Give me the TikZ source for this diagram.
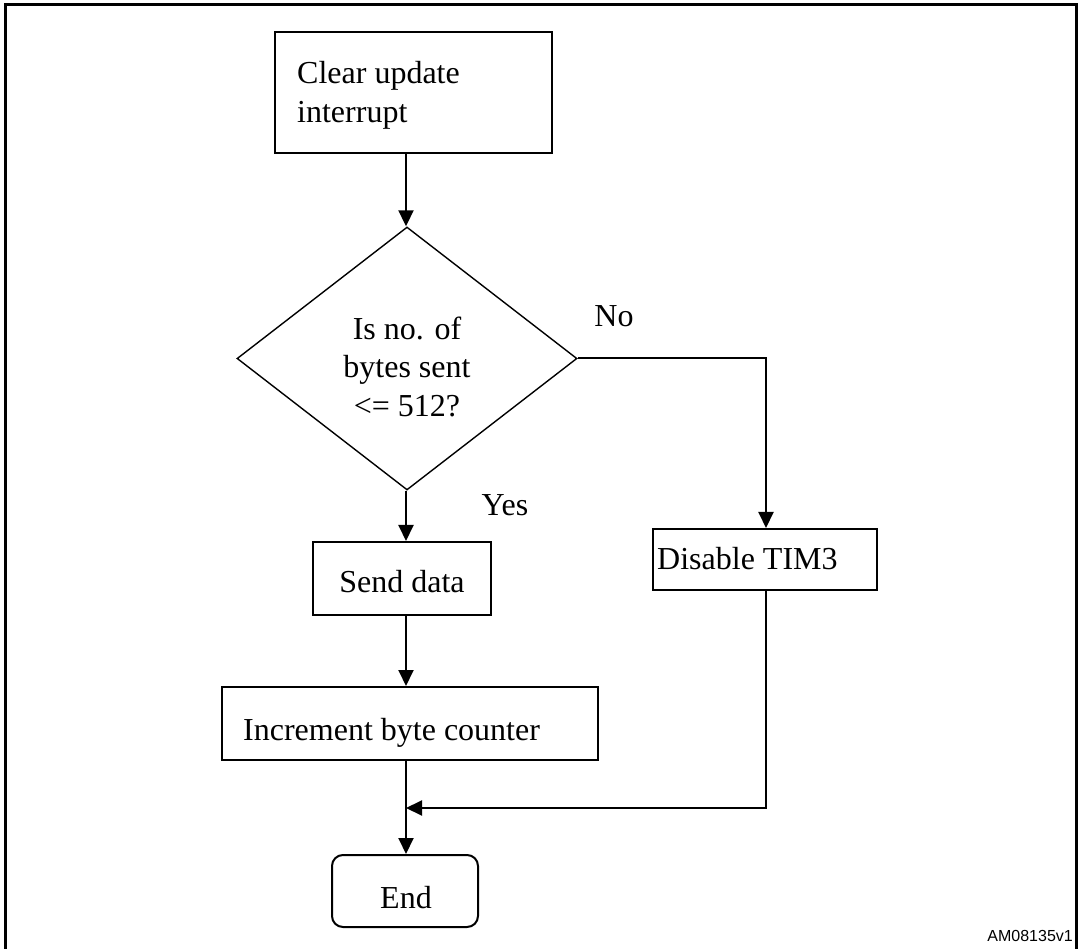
\documentclass[tikz,border=0pt]{standalone}
\usepackage{fontspec}
\setmainfont{Liberation Serif}
\newfontfamily\labelsans{Liberation Sans}
\usetikzlibrary{shapes.geometric,arrows.meta}
\begin{document}
\begin{tikzpicture}[x=1pt,y=-1pt,
  every node/.style={font=\fontsize{32}{39}\selectfont,inner sep=0pt},
  box/.style={draw,line width=2pt,rectangle,inner sep=0pt},
  arr/.style={line width=2pt,-{Triangle[length=16pt,width=15pt]}},
  ln/.style={line width=2pt}]
\useasboundingbox (0,0) rectangle (1080,949);
\draw[line width=3pt] (5.5,949) -- (5.5,4.5) -- (1076,4.5) -- (1076,949);
% boxes
\node[box,minimum width=277pt,minimum height=121pt] (clr) at (413.5,92.5) {};
\node[draw,line width=1.4pt,diamond,minimum width=340pt,minimum height=263pt,inner sep=0pt] (dec) at (407,358.5) {};
\node[box,minimum width=178pt,minimum height=73pt] (send) at (402,578.5) {};
\node[box,minimum width=376pt,minimum height=73pt] (inc) at (410,723.5) {};
\node[box,minimum width=224pt,minimum height=61pt] (dis) at (765,559.5) {};
\node[box,rounded corners=11pt,minimum width=146pt,minimum height=72pt] (endn) at (405,891) {};
% texts
\node[anchor=north west,align=left] (clrt) at (297,61.5) {Clear update\\interrupt};
\node[anchor=north,align=center,font=\fontsize{32}{38.5}\selectfont] (dect) at (407,316.5) {Is no. of\\bytes sent\\<= 512?};
\node[anchor=base] (sendt) at (402,593) {Send data};
\node[anchor=base west] (inct) at (243,740) {Increment byte counter};
\node[anchor=base west] (dist) at (657,570) {Disable TIM3};
\node[anchor=base] (endt) at (406,908) {End};
\node[anchor=base] (no) at (614,327) {No};
\node[anchor=base] (yes) at (505,516) {Yes};
\node[font=\labelsans\fontsize{16}{19}\selectfont,anchor=base east] (am) at (1073,941) {AM08135v1};
% connectors
\coordinate (m) at (406,808);
\draw[arr] (clr.south -| m) -- (dec.north -| m);
\draw[arr] (dec.south -| m) -- (send.north -| m);
\draw[arr] (send.south -| m) -- (inc.north -| m);
\draw[arr] (inc.south -| m) -- (endn.north -| m);
\draw[arr] (dec.east) -- (dec.east -| 766,0) -- (dis.north -| 766,0);
\draw[arr] (dis.south -| 766,0) -- (m -| 766,0) -- (m);
\end{tikzpicture}
\end{document}
